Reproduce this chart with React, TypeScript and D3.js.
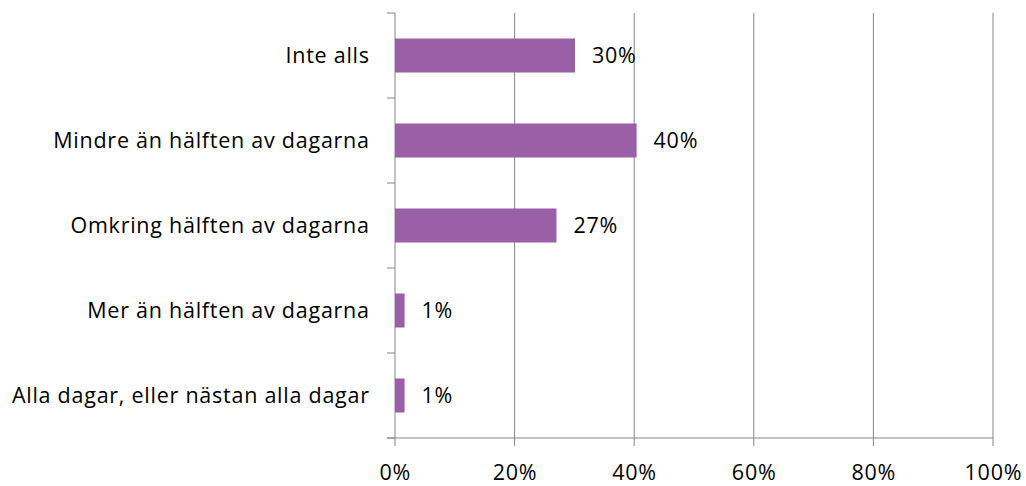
import React from "react";
import * as d3 from "d3";

const categories = [
  "Inte alls",
  "Mindre än hälften av dagarna",
  "Omkring hälften av dagarna",
  "Mer än hälften av dagarna",
  "Alla dagar, eller nästan alla dagar",
];
const values = [30.1, 40.4, 27.0, 1.6, 1.6];
const valueLabels = ["30%", "40%", "27%", "1%", "1%"];
const xTicks = [0, 20, 40, 60, 80, 100];

const W = 1026;
const H = 486;
const left = 395;
const right = 993;
const top = 13;
const bottom = 438;
const FONT = "'Open Sans', 'Noto Sans', sans-serif";
const FS = 21.5;
const LS = 0.75;

export default function App() {
  const x = d3.scaleLinear().domain([0, 100]).range([left, right]);
  const y = d3.scaleBand<string>().domain(categories).range([top, bottom]).paddingInner(0.6).paddingOuter(0.3);
  const band = (bottom - top) / categories.length;
  const boundaries = d3.range(categories.length + 1).map((i) => top + i * band);
  return (
    <svg width={W} height={H} style={{ position: "absolute", left: 0, top: 0, background: "#fff" }}>
      {xTicks.slice(1).map((t) => (
        <line key={"g" + t} x1={x(t)} x2={x(t)} y1={top} y2={bottom} stroke="#878787" strokeWidth={1} />
      ))}
      <line x1={left} x2={left} y1={top} y2={bottom} stroke="#878787" />
      <line x1={left - 8} x2={right} y1={bottom} y2={bottom} stroke="#878787" />
      {boundaries.map((b, i) => (
        <line key={"yt" + i} x1={left - 8} x2={left} y1={b} y2={b} stroke="#878787" />
      ))}
      {xTicks.map((t) => (
        <line key={"xt" + t} x1={x(t)} x2={x(t)} y1={bottom} y2={bottom + 8} stroke="#878787" />
      ))}
      {categories.map((c, i) => (
        <g key={c}>
          <rect x={x(0)} y={y(c)!} width={x(values[i]) - x(0)} height={y.bandwidth()} fill="#9B5FA7" />
          <text x={x(values[i]) + 17} y={y(c)! + y.bandwidth() / 2 + 7} fontFamily={FONT} fontSize={FS} letterSpacing={LS} fill="#000">
            {valueLabels[i]}
          </text>
          <text x={369 + LS} y={y(c)! + y.bandwidth() / 2 + 7} textAnchor="end" fontFamily={FONT} fontSize={FS} letterSpacing={LS} fill="#000">
            {c}
          </text>
        </g>
      ))}
      {xTicks.map((t) => (
        <text key={"xl" + t} x={x(t) + LS / 2} y={480} textAnchor="middle" fontFamily={FONT} fontSize={FS} letterSpacing={LS} fill="#000">
          {t + "%"}
        </text>
      ))}
    </svg>
  );
}
